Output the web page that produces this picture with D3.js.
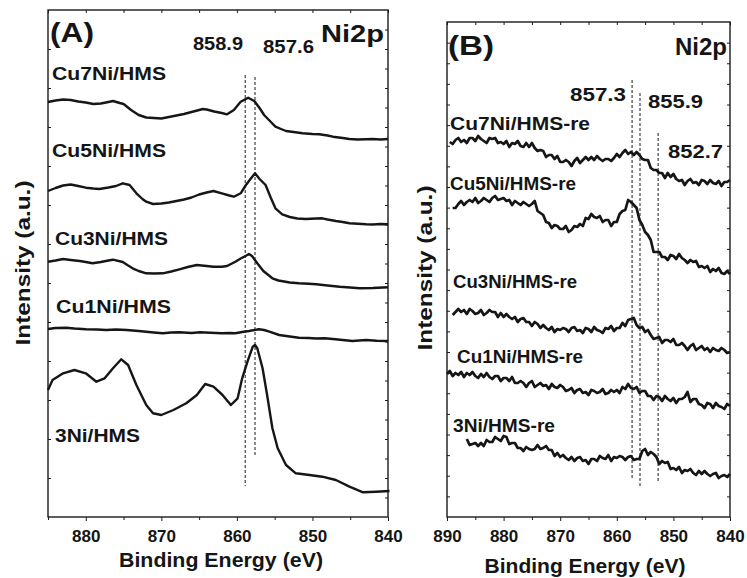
<!DOCTYPE html>
<html><head><meta charset="utf-8">
<script src="https://cdn.jsdelivr.net/npm/d3@7"></script>
<style>
body{margin:0;background:#fff}
svg{display:block}
text{font-family:"Liberation Sans",Arial,Helvetica,sans-serif;font-weight:bold;fill:#151515}
</style>
</head><body>
<svg id="chart" width="747" height="578"></svg>
<script>
// ---------------- DATA ----------------
// Panel A : Ni2p spectra (binding energy eV, intensity a.u.)
const labelsA = ["Cu7Ni/HMS","Cu5Ni/HMS","Cu3Ni/HMS","Cu1Ni/HMS","3Ni/HMS"];
const cu7A = [[885,418],[884,419.5],[883,420.5],[882,420],[881,418.5],[880,417.5],[879,416],[878,416.5],[877,418],[876.4,419],[875.5,417],[875,416],[874,410],[873,405],[872,402.5],[871,402],[870,401.5],[869,403],[868,404.5],[867,406],[866,408],[865,410],[864.5,411],[864,410.5],[863,408.5],[862,407],[861.3,405.7],[860.4,410],[859.5,418.3],[858.5,422.3],[857.7,419],[857,412],[856.4,405],[855.5,398],[854.9,393.3],[854,390.5],[853.5,389],[852.5,388],[851.3,386.7],[850,386],[849.1,385.7],[848,384.5],[847.3,383.3],[846,382],[845.1,381],[844,380.5],[842.9,380.7],[842,381],[841,380.5],[840,381]];
const cu5A = [[885,329],[884,332],[883,334.5],[882,335.5],[881,334],[880,332.3],[879,331.5],[878.2,331],[877,332.5],[876,334],[875.1,336.7],[874.2,335],[873.3,326.7],[872.5,321],[872,318.3],[871.1,316],[870,316.5],[869,317.5],[868,319],[867,320.5],[866,322.5],[865,325.5],[864,327.5],[863.1,329],[862,326.7],[861,324.5],[860.4,323.3],[859.5,326.7],[858.8,335],[858.2,341],[857.6,346.7],[857,341],[856.2,335],[855.5,322],[854.9,311.7],[854,305.7],[853,303],[852,301.5],[850.9,301],[849.5,301.5],[848.7,301.7],[848,300.5],[846.9,299],[846,298],[845.1,296.7],[844,296.2],[842.9,295.7],[842,295.5],[841,296],[840,295.7]];
const cu3A = [[885,258.3],[884,259.5],[883,261],[882,260],[880.8,259],[880,258],[879.1,256.7],[878,258],[877,259.5],[876.4,260.3],[875.1,258],[874.5,255],[873.8,251.7],[873,249],[872,246.7],[871,246.5],[869.8,246.7],[868.7,248.5],[867.6,250.7],[866.5,253],[865.3,255],[864,254],[863.1,253.3],[862,253.3],[861.3,254],[860.2,258.3],[859.5,261.5],[858.8,264.3],[858.4,266],[858,264],[857.3,256.7],[856.5,249],[855.3,241.7],[854.5,239.5],[853,237.5],[851.8,236.7],[850.5,236.2],[849.5,235.7],[848,234.5],[846.4,233.3],[845,232.5],[843.8,231.7],[842,232],[840,232.7]];
const cu1A = [[885,191],[884,192],[882.6,192.3],[881.5,191.5],[880,190.7],[878.5,190.5],[877.3,190],[876,190.5],[874.6,190],[873,189],[872,188.3],[871,187.5],[869.8,186.7],[868.7,187.5],[867.6,187.7],[866,187],[864.9,187.7],[863.5,187.2],[862,186.7],[861,187],[860.2,186.7],[859.3,188],[858.4,189],[857.1,190.7],[856.4,190],[855.7,188.3],[854.4,185],[853,183.5],[851.8,182.3],[850.5,182],[849.5,181.5],[848.4,181.8],[847.3,181],[846,180],[844.7,179],[843.8,179.5],[842.9,180],[841.5,179.3],[840,179]];
const ni3A = [[885,130],[884.4,140],[883,146.7],[881.5,150],[880,146.7],[878.6,138.3],[877.5,141.7],[876.4,151.7],[875.3,160.7],[874.4,155],[873.3,135],[872,115],[871.1,106.7],[870,105],[868.4,110],[866.7,116.7],[865.3,125],[864.2,136],[863.1,133.3],[861.9,125],[860.8,115],[859.9,121.7],[859.3,141.7],[858.6,158.3],[857.9,173.3],[857.6,175],[857.3,171.7],[856.6,151.7],[856,125],[855.3,91.7],[854.6,71.7],[853.5,55],[852.2,46.7],[850.4,45],[848.7,43.3],[846.9,40],[845.1,33.3],[843.3,27.7],[841.6,28.3],[839.8,29]];
const peaksA = [858.9, 857.6];
const peakLabelsA = ["858.9","857.6"];
const xTicksA = [880,870,860,850,840];

// Panel B : reduced samples, sampled every 0.5 eV from 890 to 840
const labelsB = ["Cu7Ni/HMS-re","Cu5Ni/HMS-re","Cu3Ni/HMS-re","Cu1Ni/HMS-re","3Ni/HMS-re"];
const energyB = d3.range(0, 101).map(i => 890 - i * 0.5);
const cu7B = [null,378,376,380,382,378,380,377,382,382,379,384,381,379,377,382,381,382,377,378,376,379,373,377,376,379,374,373,377,373,377,372,369,370,369,363,365,365,361,364,358,358,360,358,354,359,362,357,360,363,360,363,360,364,361,359,361,361,359,362,366,363,367,370,366,368,365,368,365,361,360,360,352,350,350,347,347,342,347,343,346,341,339,340,335,339,341,337,338,335,340,339,336,340,337,336,339,334,338,338,340];
const cu5B = [null,null,312,312,316,319,315,318,320,318,322,317,319,322,320,318,322,324,320,321,322,319,320,315,319,317,315,318,316,314,316,319,309,307,305,298,297,292,295,294,291,291,294,288,290,294,293,296,294,302,301,306,303,302,304,298,300,300,294,298,298,306,309,310,320,318,315,312,300,295,288,285,280,268,268,268,263,263,260,265,264,261,266,262,260,257,260,258,259,253,254,252,254,248,251,249,252,247,246,249,246];
const cu3B = [null,null,205,208,211,208,210,206,211,209,206,207,210,205,207,210,208,208,203,207,203,206,203,201,203,198,201,202,198,198,194,198,196,192,195,192,190,193,188,191,190,192,191,188,192,193,189,190,187,192,191,188,193,190,189,187,192,191,194,189,192,192,197,194,200,201,202,195,192,193,188,190,185,181,182,183,177,180,180,178,181,175,175,177,174,170,174,176,170,172,174,170,172,168,172,170,169,172,170,167,168];
const cu1B = [146,149,144,147,145,148,143,147,145,148,144,142,146,143,147,143,141,144,144,139,142,142,139,143,137,137,139,137,133,137,139,133,135,137,134,135,131,136,133,132,135,133,129,130,132,127,130,131,127,128,125,130,129,127,128,131,126,127,130,128,130,127,133,131,136,132,131,133,127,129,129,124,124,120,124,123,119,124,121,119,122,117,121,121,123,128,118,121,121,116,115,112,117,116,112,117,114,113,111,116,114];
const ni3B = [null,null,null,null,null,null,null,81,75,76,77,74,77,74,80,78,78,83,81,79,84,83,76,77,77,72,72,69,73,71,70,71,75,71,72,74,70,70,64,67,63,65,62,60,63,59,62,63,59,60,56,61,61,59,64,62,61,65,59,63,62,64,63,60,63,64,60,61,61,69,71,65,68,66,63,56,59,57,58,51,52,50,53,47,50,49,51,47,45,49,46,49,46,44,46,47,42,44,45,43,46];
const peaksB = [857.3, 855.9, 852.7];
const peakLabelsB = ["857.3","855.9","852.7"];
const xTicksB = [890,880,870,860,850,840];

// ---------------- DRAW ----------------
const svg = d3.select("#chart");
const ink = "#1c1a1b";

function txt(g, s, x, y, size, len, anchor) {
  const t = g.append("text").attr("x", x).attr("y", y).style("font-size", size + "px").text(s);
  if (anchor) t.attr("text-anchor", anchor);
  if (len) t.attr("textLength", len).attr("lengthAdjust", "spacingAndGlyphs");
  return t;
}

function axes(g, x, y, box, majors, yStepCount, leftEvery) {
  const all = [];
  for (let v = Math.ceil(x.domain()[1] / 5) * 5; v <= x.domain()[0]; v += 5) all.push(v);
  const bottom = g.append("g").attr("transform", `translate(0,${box.b})`)
    .call(d3.axisBottom(x).tickValues(majors).tickSize(4).tickPadding(8.5).tickFormat(d3.format("d")));
  bottom.selectAll("text").style("font-size", "17px");
  g.append("g").attr("transform", `translate(0,${box.b})`)
    .call(d3.axisBottom(x).tickValues(all.filter(v => !majors.includes(v))).tickSize(3).tickFormat(""));
  g.append("g").attr("transform", `translate(0,${box.t})`)
    .call(d3.axisTop(x).tickValues(all).tickSize(-3).tickFormat(""));
  const d = y.domain();
  const step = (d[1] - d[0]) / yStepCount;
  const yt = d3.range(1, yStepCount).map(k => d[0] + k * step);
  g.append("g").attr("transform", `translate(${box.l},0)`)
    .call(d3.axisLeft(y).tickValues(yt.filter((v, k) => (k + 1) % leftEvery === 0)).tickSize(-3).tickFormat(""));
  g.append("g").attr("transform", `translate(${box.r},0)`)
    .call(d3.axisRight(y).tickValues(yt).tickSize(-3).tickFormat(""));
  g.selectAll(".domain").remove();
  g.selectAll(".tick line").attr("stroke", ink).attr("stroke-width", 1);
  g.selectAll(".tick text").attr("fill", null);
  g.append("rect").attr("x", box.l).attr("y", box.t).attr("width", box.r - box.l).attr("height", box.b - box.t)
    .attr("fill", "none").attr("stroke", ink).attr("stroke-width", 1.4);
}

// ----- Panel A -----
const boxA = {l: 48, r: 388, t: 10, b: 517};
const xA = d3.scaleLinear().domain([885, 840]).range([boxA.l, boxA.r]);
const yA = d3.scaleLinear().domain([3, 510]).range([boxA.b, boxA.t]);
const gA = svg.append("g");
axes(gA, xA, yA, boxA, xTicksA, 26, 2);

const lineA = d3.line().x(d => xA(d[0])).y(d => yA(d[1]));
[cu7A, cu5A, cu3A, cu1A, ni3A].forEach(s => {
  gA.append("path").datum(s).attr("d", lineA).attr("fill", "none")
    .attr("stroke", "#161616").attr("stroke-width", 2.4).attr("stroke-linejoin", "round");
});
const dashA = [[445, 34], [443, 64]];
peaksA.forEach((p, i) => {
  gA.append("line").attr("x1", xA(p)).attr("x2", xA(p)).attr("y1", yA(dashA[i][0])).attr("y2", yA(dashA[i][1]))
    .attr("stroke", ink).attr("stroke-width", 1).attr("stroke-dasharray", "3,2");
});
txt(gA, "(A)", 50, 42, 28, 44);
txt(gA, "Ni2p", 321, 42, 23, 63);
txt(gA, peakLabelsA[0], 193, 50, 19, 50);
txt(gA, peakLabelsA[1], 263, 53, 19, 51);
const labPosA = [[52, 80, 114], [52, 157, 114], [55, 245, 113], [56, 313, 115], [55, 442, 85]];
labelsA.forEach((s, i) => txt(gA, s, labPosA[i][0], labPosA[i][1], 19, labPosA[i][2]));
txt(gA, "Binding Energy (eV)", 221, 567, 21, 204, "middle");
txt(gA, "Intensity (a.u.)", 0, 0, 20, 165, "middle").attr("transform", "translate(30,263) rotate(-90)");

// ----- Panel B -----
const boxB = {l: 447, r: 730, t: 22, b: 517};
const xB = d3.scaleLinear().domain([890, 840]).range([boxB.l, boxB.r]);
const yB = d3.scaleLinear().domain([3, 498]).range([boxB.b, boxB.t]);
const gB = svg.append("g");
axes(gB, xB, yB, boxB, xTicksB, 24, 1);

const lineB = d3.line().defined(d => d[1] != null).x(d => xB(d[0])).y(d => yB(d[1]));
[cu7B, cu5B, cu3B, cu1B, ni3B].forEach(s => {
  gB.append("path").datum(energyB.map((e, i) => [e, s[i]])).attr("d", lineB).attr("fill", "none")
    .attr("stroke", "#161616").attr("stroke-width", 2.7).attr("stroke-linejoin", "round");
});
const dashB = [[440, 41], [427, 32], [387, 37]];
peaksB.forEach((p, i) => {
  gB.append("line").attr("x1", xB(p)).attr("x2", xB(p)).attr("y1", yB(dashB[i][0])).attr("y2", yB(dashB[i][1]))
    .attr("stroke", ink).attr("stroke-width", 1).attr("stroke-dasharray", "3,2");
});
txt(gB, "(B)", 448, 55, 28, 46);
txt(gB, "Ni2p", 675, 55, 24, 52);
txt(gB, peakLabelsB[0], 570, 101, 19, 56);
txt(gB, peakLabelsB[1], 648, 108, 19, 55);
txt(gB, peakLabelsB[2], 668, 158, 19, 55);
const labPosB = [[450, 130, 140], [450, 190, 126], [453, 288, 124], [457, 363, 126], [453, 432, 102]];
labelsB.forEach((s, i) => txt(gB, s, labPosB[i][0], labPosB[i][1], 18, labPosB[i][2]));
txt(gB, "Binding Energy (eV)", 585, 573, 21, 201, "middle");
txt(gB, "Intensity (a.u.)", 0, 0, 20, 165, "middle").attr("transform", "translate(432,268) rotate(-90)");
</script>
</body></html>
